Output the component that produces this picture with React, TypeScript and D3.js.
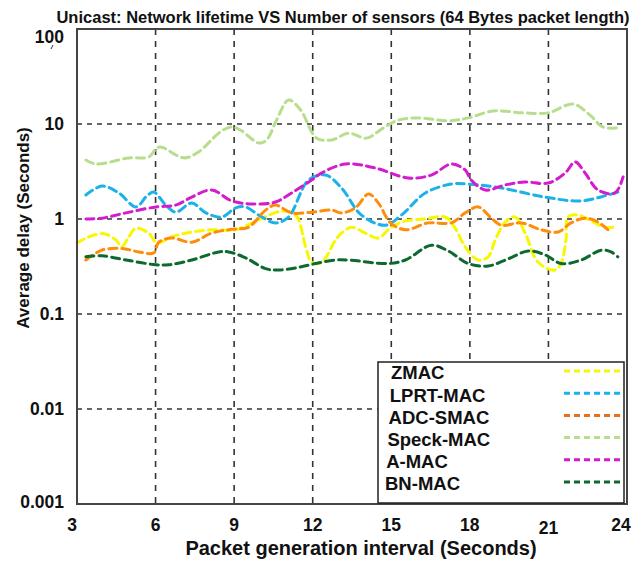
import React from "react";
import * as d3 from "d3";

const seriesNames = ["ZMAC", "LPRT-MAC", "ADC-SMAC", "Speck-MAC", "A-MAC", "BN-MAC"];
const seriesColors = ["#f7f700", "#1bb2ea", "#ff8c0a", "#b7de8c", "#d41ccc", "#0c6a2f"];
const legendColors = ["#f7f700", "#1bb2ea", "#e8701a", "#b7de8c", "#d41ccc", "#0c6a2f"];

const xTicks = [3, 6, 9, 12, 15, 18, 21, 24];
const yTicks = [0.001, 0.01, 0.1, 1, 10, 100];
const yTickLabels = ["0.001", "0.01", "0.1", "1", "10", "100"];

const zmac: [number, number][] = [
  [3.0, 0.56], [3.46, 0.65], [4.03, 0.7], [4.49, 0.6], [4.71, 0.51], [4.98, 0.65], [5.25, 0.8],
  [5.74, 0.71], [6.05, 0.56], [6.62, 0.65], [7.38, 0.73], [8.14, 0.77], [9.06, 0.77], [9.94, 0.98],
  [10.81, 1.21], [11.35, 1.1], [11.73, 0.51], [11.96, 0.35], [12.34, 0.35], [12.87, 0.6], [13.1, 0.71],
  [13.48, 0.82], [14.01, 0.71], [14.51, 0.63], [14.89, 0.77], [15.39, 0.93], [16.3, 1.0], [17.06, 1.05],
  [17.44, 0.8], [17.82, 0.51], [18.32, 0.37], [18.7, 0.4], [18.97, 0.6], [19.35, 0.93], [19.73, 1.05],
  [20.11, 0.71], [20.61, 0.35], [21.25, 0.29], [21.48, 0.34], [21.67, 0.6], [21.75, 1.05], [22.13, 1.1],
  [22.78, 0.91], [23.16, 0.82], [23.46, 0.82],
];
const lprt: [number, number][] = [
  [3.34, 1.79], [3.95, 2.22], [4.6, 1.88], [5.25, 1.34], [5.67, 1.75], [5.93, 1.92], [6.39, 1.4],
  [6.77, 1.18], [7.38, 1.47], [7.92, 1.16], [8.53, 1.05], [9.06, 1.31], [9.44, 1.34], [9.94, 1.1],
  [10.58, 0.91], [11.08, 1.05], [11.84, 2.57], [12.49, 2.9], [13.1, 2.12], [13.86, 1.1], [14.78, 0.86],
  [15.39, 1.1], [16.3, 1.88], [17.29, 2.33], [17.94, 2.33], [19.2, 2.12], [20.87, 1.7], [22.24, 1.55],
  [23.27, 1.79], [23.65, 1.92],
];
const adcsmac: [number, number][] = [
  [3.34, 0.37], [3.95, 0.47], [4.71, 0.49], [5.36, 0.45], [5.93, 0.44], [6.12, 0.57], [6.62, 0.63],
  [7.38, 0.57], [8.14, 0.71], [8.91, 0.78], [9.55, 0.82], [10.2, 1.24], [10.58, 1.4], [11.19, 1.16],
  [11.96, 1.18], [12.72, 1.24], [13.1, 1.16], [13.63, 1.31], [14.13, 1.83], [14.51, 1.47], [14.97, 0.91],
  [15.54, 0.77], [16.41, 0.91], [17.29, 0.91], [17.82, 1.16], [18.32, 1.34], [18.82, 1.02], [19.2, 0.86],
  [19.96, 0.91], [20.72, 0.77], [21.37, 0.73], [21.86, 0.91], [22.4, 1.02], [22.89, 0.93], [23.27, 0.77],
];
const speck: [number, number][] = [
  [3.34, 4.18], [3.72, 3.79], [4.98, 4.39], [5.74, 4.5], [6.05, 5.6], [6.24, 5.7], [7.08, 4.4],
  [7.65, 5.1], [8.41, 8.0], [8.87, 9.3], [9.25, 8.6], [9.94, 6.3], [10.24, 6.8], [10.62, 11],
  [11.08, 17.9], [11.54, 14], [12.15, 7.1], [12.72, 6.8], [13.37, 8.0], [14.05, 7.1], [14.7, 9.1],
  [15.27, 11.0], [16.03, 11.6], [17.18, 10.8], [17.94, 11.6], [18.89, 13.7], [20.04, 13.1], [20.99, 13.1],
  [21.94, 16.2], [22.59, 12.4], [23.08, 9.3], [23.65, 9.1],
];
const amac: [number, number][] = [
  [3.34, 1.0], [3.95, 1.02], [4.87, 1.16], [6.01, 1.34], [6.77, 1.4], [7.38, 1.7], [8.14, 2.02],
  [8.91, 1.55], [9.67, 1.44], [10.58, 1.51], [11.19, 1.88], [11.96, 2.57], [12.34, 3.05], [13.25, 3.79],
  [14.39, 3.44], [15.65, 2.7], [16.53, 2.9], [17.29, 3.79], [17.82, 3.28], [18.05, 2.57], [18.59, 2.02],
  [19.35, 2.28], [20.11, 2.45], [20.99, 2.39], [21.64, 3.05], [22.02, 3.98], [22.4, 3.05], [22.89, 2.02],
  [23.54, 1.88], [23.85, 2.77],
];
const bnmac: [number, number][] = [
  [3.34, 0.4], [3.95, 0.41], [4.87, 0.37], [6.01, 0.33], [6.51, 0.33], [7.38, 0.37], [8.41, 0.45],
  [8.79, 0.45], [9.44, 0.39], [10.2, 0.3], [10.7, 0.29], [11.46, 0.31], [12.11, 0.34], [12.87, 0.37],
  [13.37, 0.37], [14.89, 0.34], [15.54, 0.37], [16.53, 0.53], [17.18, 0.46], [17.94, 0.34], [18.7, 0.32],
  [19.46, 0.38], [20.23, 0.46], [20.87, 0.42], [21.48, 0.34], [22.25, 0.37], [23.01, 0.47], [23.39, 0.45],
  [23.65, 0.4],
];
const allSeries = [zmac, lprt, adcsmac, speck, amac, bnmac];

const W = 635;
const H = 565;
const L = 77, R = 627, T = 29, B = 504;

export default function App() {
  const x = d3.scaleLinear().domain([3, 24]).range([L, R]);
  const y = d3.scaleLog().domain([0.001, 100]).range([B, T]);
  const line = d3
    .line<[number, number]>()
    .x((d) => x(d[0]))
    .y((d) => y(d[1]))
    .curve(d3.curveCatmullRom.alpha(0.5));
  const font = "'Liberation Sans', Arial, sans-serif";

  const legendTop = 373;
  const legendStep = 22.2;

  return (
    <svg
      width={W}
      height={H}
      style={{ position: "absolute", left: 0, top: 0, background: "#fff" }}
      fontFamily={font}
    >
      <rect x={0} y={0} width={W} height={H} fill="#fff" />
      {/* grid */}
      {xTicks.slice(1, -1).map((t) => (
        <line key={"gx" + t} x1={x(t)} x2={x(t)} y1={T} y2={B} stroke="#333" strokeWidth={1.6} strokeDasharray="6,6" />
      ))}
      {yTicks.slice(1, -1).map((t) => (
        <line key={"gy" + t} x1={L} x2={R} y1={y(t)} y2={y(t)} stroke="#333" strokeWidth={1.6} strokeDasharray="5,5" />
      ))}
      {/* series */}
      {allSeries.map((s, i) => (
        <path
          key={seriesNames[i]}
          d={line(s) || ""}
          fill="none"
          stroke={seriesColors[i]}
          strokeWidth={3}
          strokeDasharray="8,5"
          strokeLinecap="round"
        />
      ))}
      {/* frame */}
      <rect x={L} y={T} width={R - L} height={B - T} fill="none" stroke="#444" strokeWidth={2} />
      {/* legend */}
      <rect x={378} y={362} width={246} height={141} fill="#fff" stroke="#222" strokeWidth={1.5} />
      {seriesNames.map((n, i) => (
        <g key={"lg" + n}>
          <text
            x={391 - i * 1.2}
            y={legendTop + i * legendStep}
            dy="0.35em"
            fontSize={18.5}
            fontWeight="bold"
            fill="#111"
          >
            {n}
          </text>
          <line
            x1={564}
            x2={624}
            y1={legendTop - 2 + i * legendStep}
            y2={legendTop - 2 + i * legendStep}
            stroke={legendColors[i]}
            strokeWidth={3}
            strokeDasharray="6,4"
          />
        </g>
      ))}
      {/* y tick labels */}
      {yTicks.map((t, i) => (
        <text
          key={"yl" + t}
          x={64}
          y={y(t) + (i === yTicks.length - 1 ? 8 : 0) + (i === 0 ? -2 : 0)}
          dy="0.35em"
          textAnchor="end"
          fontSize={17.5}
          fontWeight="bold"
          fill="#111"
        >
          {yTickLabels[i]}
        </text>
      ))}
      <line x1={51} y1={49} x2={53} y2={45} stroke="#333" strokeWidth={1} />
      {/* x tick labels */}
      {xTicks.map((t, i) => (
        <text
          key={"xl" + t}
          x={x(t) + (i === 0 ? -5 : i === xTicks.length - 1 ? -6 : 0)}
          y={525 + (t === 21 ? 3 : 0)}
          dy="0.35em"
          textAnchor="middle"
          fontSize={17.5}
          fontWeight="bold"
          fill="#111"
        >
          {t}
        </text>
      ))}
      {/* titles */}
      <text x={343} y={17} dy="0.35em" textAnchor="middle" fontSize={16.5} fontWeight="bold" fill="#111">
        Unicast: Network lifetime VS Number of sensors (64 Bytes packet length)
      </text>
      <text
        transform={`translate(23,228) rotate(-90)`}
        dy="0.35em"
        textAnchor="middle"
        fontSize={17}
        fontWeight="bold"
        fill="#111"
      >
        Average delay (Seconds)
      </text>
      <text x={361} y={548} dy="0.35em" textAnchor="middle" fontSize={20} fontWeight="bold" fill="#111">
        Packet generation interval (Seconds)
      </text>
    </svg>
  );
}
